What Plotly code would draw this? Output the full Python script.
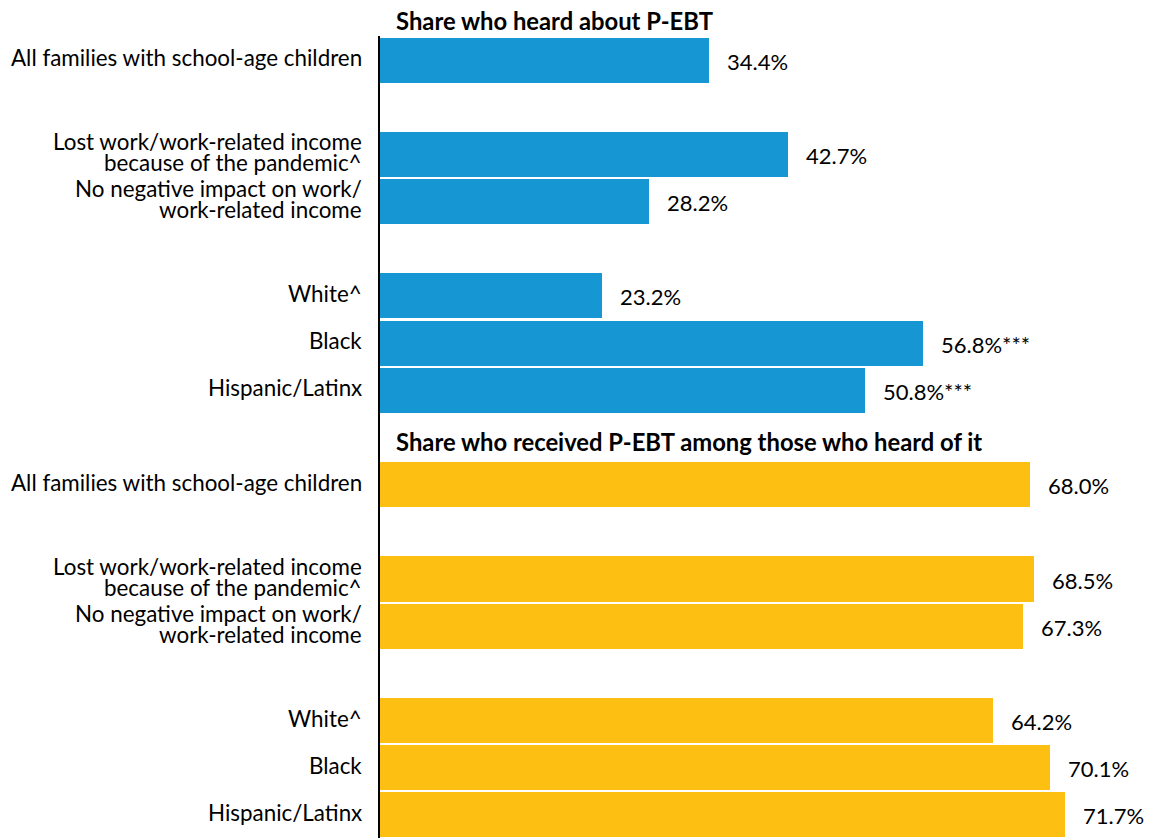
import plotly.graph_objects as go

# ---- data ----
categories = [
    "All families with school-age children",
    "Lost work/work-related income<br>because of the pandemic^",
    "No negative impact on work/<br>work-related income",
    "White^",
    "Black",
    "Hispanic/Latinx",
]
group_of = [0, 1, 1, 2, 2, 2]  # grouping of categories (for spacing)
heard_values = [34.4, 42.7, 28.2, 23.2, 56.8, 50.8]
heard_labels = ["34.4%", "42.7%", "28.2%", "23.2%", "56.8%***", "50.8%***"]
received_values = [68.0, 68.5, 67.3, 64.2, 70.1, 71.7]
received_labels = ["68.0%", "68.5%", "67.3%", "64.2%", "70.1%", "71.7%"]
panel_titles = ["Share who heard about P-EBT",
                "Share who received P-EBT among those who heard of it"]

BLUE = "#1696d2"
YELLOW = "#fdbf11"
FONT = "Lato"

# slot positions: one slot per bar, extra slot between groups
def positions(offset):
    pos, p, prev = [], offset, None
    for g in group_of:
        if prev is not None:
            p += 2 if g != prev else 1
        pos.append(p)
        prev = g
    return pos

pos_heard = positions(0)
pos_recv = positions(pos_heard[-1] + 2)

fig = go.Figure()
for vals, pos, col in [(heard_values, pos_heard, BLUE), (received_values, pos_recv, YELLOW)]:
    fig.add_trace(go.Bar(x=vals, y=pos, orientation="h", marker=dict(color=col, line=dict(width=0)),
                         width=0.955, hoverinfo="skip", showlegend=False))

annotations = []
LINE_H = 21
for pos, vals, labels in [(pos_heard, heard_values, heard_labels), (pos_recv, received_values, received_labels)]:
    for cat, p, v, lab in zip(categories, pos, vals, labels):
        lines = cat.split("<br>")
        n = len(lines)
        for i, line in enumerate(lines):
            shift = ((n - 1) / 2 - i) * LINE_H
            annotations.append(dict(x=0, xref="paper", y=p, yref="y", text=line, showarrow=False,
                                    xanchor="right", yanchor="middle", xshift=-16, yshift=shift + 2.5,
                                    font=dict(family=FONT, size=22.4, color="#000")))
        annotations.append(dict(x=v, xref="x", y=p, yref="y", text=lab, showarrow=False,
                                xanchor="left", yanchor="middle", xshift=16, yshift=-1,
                                font=dict(family=FONT, size=22, color="#000")))

# panel titles: placed just above the first bar of each panel
for title, p, shift in zip(panel_titles, [pos_heard[0] - 0.5, pos_recv[0] - 0.5], [15, 19]):
    annotations.append(dict(x=0, xref="x", y=p, yref="y", text="<b>" + title + "</b>", showarrow=False,
                            xanchor="left", yanchor="middle", xshift=14, yshift=shift,
                            font=dict(family=FONT, size=23.8, color="#000")))

fig.update_layout(
    width=1151, height=838,
    margin=dict(l=380, r=0, t=36, b=0),
    paper_bgcolor="white", plot_bgcolor="white",
    bargap=0,
    xaxis=dict(range=[0, 80.7], visible=False, fixedrange=True),
    yaxis=dict(range=[16.49, -0.51], showgrid=False, zeroline=False, showticklabels=False,
               ticks="", showline=True, linecolor="#000", linewidth=2, fixedrange=True),
    annotations=annotations,
    font=dict(family=FONT),
)

fig.write_html("out.html")
